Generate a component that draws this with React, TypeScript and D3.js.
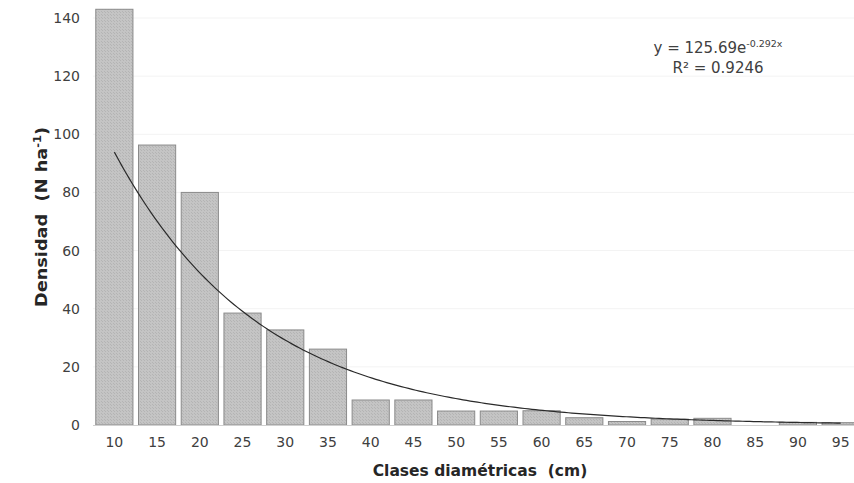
import React from "react";
import * as d3 from "d3";

const categories = ["10","15","20","25","30","35","40","45","50","55","60","65","70","75","80","85","90","95"];
const densities = [143, 96.3, 80, 38.5, 32.7, 26.1, 8.6, 8.6, 4.8, 4.8, 4.9, 2.5, 1.2, 2.0, 2.3, 0, 0.9, 0.8];
const yTicks = [0, 20, 40, 60, 80, 100, 120, 140];
const trendA = 125.69;
const trendB = -0.292;

const W = 854, H = 483;
const FONT = "Verdana, 'DejaVu Sans', sans-serif";

export default function App() {
  const x = d3.scaleBand<string>().domain(categories).range([93, 862]).paddingInner(0.13).paddingOuter(0.065);
  const y = d3.scaleLinear().domain([0, 140]).range([425, 18]);

  const trendPts: [number, number][] = [];
  const n = categories.length;
  const steps = 200;
  for (let i = 0; i <= steps; i++) {
    const t = 1 + (i / steps) * (n - 1);
    const px = (x(categories[0]) as number) + x.bandwidth() / 2 + (t - 1) * x.step();
    trendPts.push([px, y(trendA * Math.exp(trendB * t))]);
  }
  const line = d3.line();

  return (
    <svg width={W} height={H} style={{ position: "absolute", left: 0, top: 0, background: "#fff" }} fontFamily={FONT}>
      <defs>
        <pattern id="hatch" width="3" height="3" patternUnits="userSpaceOnUse">
          <rect width="3" height="3" fill="#c4c4c4" />
          <rect width="1" height="1" fill="#b4b4b4" />
          <rect x="2" y="2" width="1" height="1" fill="#b4b4b4" />
        </pattern>
      </defs>
      {yTicks.filter(t => t > 0).map(t => (
        <line key={t} x1={93} x2={862} y1={y(t)} y2={y(t)} stroke="#f3f3f3" strokeWidth={1} />
      ))}
      {categories.map((c, i) => densities[i] > 0 ? (
        <rect key={c} x={x(c)} y={y(densities[i])} width={x.bandwidth()} height={y(0) - y(densities[i])}
          fill="url(#hatch)" stroke="#8a8a8a" strokeWidth={1} />
      ) : null)}
      <line x1={93} x2={862} y1={y(0) + 0.5} y2={y(0) + 0.5} stroke="#d0d0d0" strokeWidth={1} />
      <path d={line(trendPts) || ""} fill="none" stroke="#2a2a2a" strokeWidth={1.2} />
      {yTicks.map(t => (
        <text key={t} x={80} y={y(t)} dy="0.36em" textAnchor="end" fontSize={14} fill="#404040">{t}</text>
      ))}
      {categories.map(c => (
        <text key={c} x={(x(c) as number) + x.bandwidth() / 2} y={442} dy="0.36em" textAnchor="middle" fontSize={14} fill="#404040">{c}</text>
      ))}
      <text x={480} y={470} dy="0.36em" textAnchor="middle" fontSize={15.5} fontWeight="bold" fill="#262626" style={{ whiteSpace: "pre" }}>{"Clases diamétricas  (cm)"}</text>
      <text transform="translate(41,217) rotate(-90)" textAnchor="middle" dy="0.36em" fontSize={15.5} fontWeight="bold" fill="#262626"
        textLength={180} lengthAdjust="spacingAndGlyphs" style={{ whiteSpace: "pre" }}>
        {"Densidad  (N ha"}<tspan dy="-6" fontSize={10}>-1</tspan><tspan dy="6">)</tspan>
      </text>
      <text x={718} y={48} dy="0.36em" textAnchor="middle" fontSize={15} fill="#404040">
        y = 125.69e<tspan dy="-6" fontSize={9.5}>-0.292x</tspan>
      </text>
      <text x={718} y={68} dy="0.36em" textAnchor="middle" fontSize={15} fill="#404040">R² = 0.9246</text>
    </svg>
  );
}
